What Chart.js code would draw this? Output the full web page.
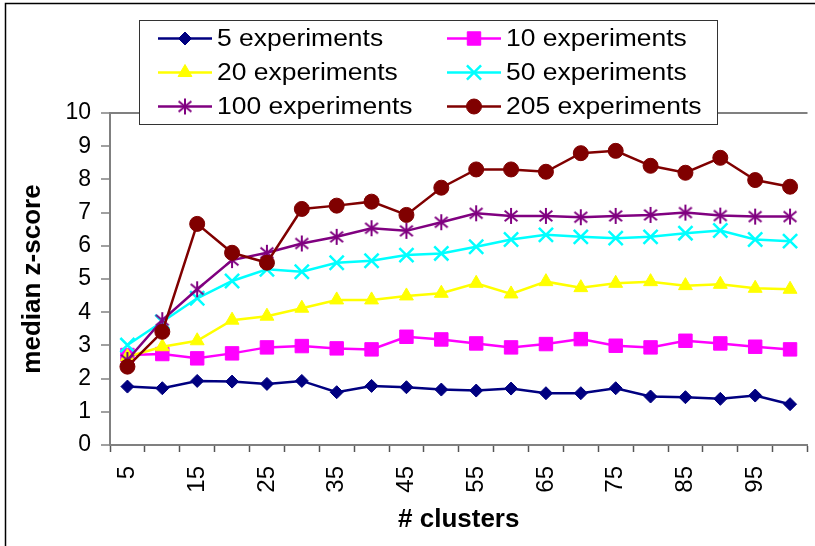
<!DOCTYPE html>
<html>
<head>
<meta charset="utf-8">
<script src="https://cdn.jsdelivr.net/npm/chart.js@4.4.0/dist/chart.umd.min.js"></script>
<style>
html, body { margin: 0; padding: 0; overflow: hidden; background: #fff; }
#wrap { width: 820px; height: 546px; }
</style>
</head>
<body>
<div id="wrap"><canvas id="myChart" width="820" height="546"></canvas></div>
<script>
// data
var clusters = [5, 10, 15, 20, 25, 30, 35, 40, 45, 50, 55, 60, 65, 70, 75, 80, 85, 90, 95, 100];
var exp5 = [1.76, 1.71, 1.93, 1.91, 1.84, 1.93, 1.59, 1.78, 1.74, 1.67, 1.64, 1.70, 1.56, 1.56, 1.71, 1.46, 1.44, 1.39, 1.49, 1.23];
var exp10 = [2.71, 2.74, 2.61, 2.76, 2.94, 2.98, 2.91, 2.88, 3.26, 3.18, 3.06, 2.94, 3.04, 3.19, 2.99, 2.94, 3.14, 3.06, 2.96, 2.88];
var exp20 = [2.66, 2.96, 3.14, 3.76, 3.88, 4.12, 4.37, 4.37, 4.49, 4.57, 4.87, 4.55, 4.92, 4.74, 4.87, 4.92, 4.80, 4.84, 4.72, 4.69];
var exp50 = [3.01, 3.71, 4.42, 4.94, 5.29, 5.22, 5.49, 5.55, 5.72, 5.77, 5.97, 6.19, 6.33, 6.27, 6.23, 6.27, 6.38, 6.46, 6.19, 6.14];
var exp100 = [2.56, 3.76, 4.69, 5.57, 5.79, 6.07, 6.27, 6.53, 6.45, 6.71, 6.98, 6.90, 6.90, 6.86, 6.90, 6.93, 7.00, 6.91, 6.88, 6.88];
var exp205 = [2.36, 3.41, 6.66, 5.79, 5.49, 7.11, 7.21, 7.33, 6.93, 7.75, 8.30, 8.30, 8.23, 8.79, 8.86, 8.41, 8.20, 8.65, 7.98, 7.78];
var seriesNames = ['5 experiments', '10 experiments', '20 experiments', '50 experiments', '100 experiments', '205 experiments'];

var FONT = '"Liberation Sans", Arial, sans-serif';
Chart.defaults.font.family = FONT;
Chart.defaults.color = '#000';

// excel style asterisk marker
function asterisk(color, r) {
    var s = Math.ceil(r * 2 + 4);
    var c = document.createElement('canvas');
    c.width = s; c.height = s;
    var g = c.getContext('2d');
    var m = s / 2;
    g.strokeStyle = color;
    g.lineWidth = 2;
    g.beginPath();
    g.moveTo(m, m - r); g.lineTo(m, m + r);
    g.moveTo(m - r * 0.8, m - r * 0.65); g.lineTo(m + r * 0.8, m + r * 0.65);
    g.moveTo(m - r * 0.8, m + r * 0.65); g.lineTo(m + r * 0.8, m - r * 0.65);
    g.stroke();
    return c;
}

function series(i, values, color, style, radius, pbw) {
    return {
        label: seriesNames[i],
        data: values,
        borderColor: color,
        backgroundColor: color,
        borderWidth: 2.5,
        pointStyle: style,
        pointRadius: radius,
        pointHoverRadius: radius,
        pointBackgroundColor: color,
        pointBorderColor: color,
        pointBorderWidth: pbw,
        tension: 0,
        order: 5 - i
    };
}

var frame = {
    id: 'frame',
    beforeDraw: function (chart) {
        var ctx = chart.ctx;
        ctx.save();
        ctx.fillStyle = '#fff';
        ctx.fillRect(0, 0, chart.width, chart.height);
        ctx.strokeStyle = '#000';
        ctx.lineWidth = 1.5;
        ctx.beginPath();
        ctx.moveTo(5.5, chart.height);
        ctx.lineTo(5.5, 3.5);
        ctx.lineTo(chart.width, 3.5);
        ctx.stroke();
        ctx.restore();
    }
};

var legendBox = {
    id: 'legendBox',
    afterDraw: function (chart) {
        var ctx = chart.ctx;
        ctx.save();
        ctx.fillStyle = '#fff';
        ctx.strokeStyle = '#333';
        ctx.lineWidth = 1;
        ctx.fillRect(139.5, 20.5, 578, 104);
        ctx.strokeRect(139.5, 20.5, 578, 104);
        var cols = [158, 447], rows = [38.5, 72.5, 106.5];
        chart.data.datasets.forEach(function (ds, i) {
            var x = cols[i % 2], y = rows[Math.floor(i / 2)];
            ctx.strokeStyle = ds.borderColor;
            ctx.lineWidth = ds.borderWidth;
            ctx.beginPath();
            ctx.moveTo(x, y);
            ctx.lineTo(x + 54, y);
            ctx.stroke();
            ctx.fillStyle = ds.pointBackgroundColor;
            ctx.strokeStyle = ds.pointBorderColor;
            ctx.lineWidth = ds.pointBorderWidth;
            Chart.helpers.drawPoint(ctx, {
                pointStyle: ds.pointStyle,
                radius: ds.pointRadius,
                borderWidth: ds.pointBorderWidth,
                rotation: 0
            }, x + 27, y);
            ctx.save();
            ctx.translate(x + 59, y + 1);
            ctx.scale(1.15, 1);
            ctx.fillStyle = '#000';
            ctx.font = '23px ' + FONT;
            ctx.textBaseline = 'middle';
            ctx.fillText(ds.label, 0, 0);
            ctx.restore();
        });
        ctx.restore();
    }
};

var ctx = document.getElementById('myChart').getContext('2d');
var myChart = new Chart(ctx, {
    type: 'line',
    data: {
        labels: clusters,
        datasets: [
            series(0, exp5, '#000080', 'rectRot', 6.5, 1),
            series(1, exp10, '#FF00FF', 'rect', 9.5, 1),
            series(2, exp20, '#FFFF00', 'triangle', 8, 1),
            series(3, exp50, '#00FFFF', 'crossRot', 10, 2.5),
            series(4, exp100, '#800080', asterisk('#800080', 8), 8, 0),
            series(5, exp205, '#800000', 'circle', 7.5, 1)
        ]
    },
    options: {
        responsive: false,
        animation: false,
        layout: { padding: { top: 113, left: 0, right: 0, bottom: 0 } },
        plugins: {
            legend: { display: false },
            tooltip: { enabled: false }
        },
        scales: {
            x: {
                offset: true,
                grid: {
                    offset: true,
                    drawOnChartArea: false,
                    tickLength: 7,
                    tickColor: '#555',
                    tickWidth: 1.5
                },
                border: { color: '#808080', width: 2 },
                ticks: {
                    autoSkip: false,
                    minRotation: 90,
                    maxRotation: 90,
                    padding: 14,
                    font: { size: 24 },
                    callback: function (val, idx) {
                        return idx % 2 === 0 ? String(clusters[idx]) : '';
                    }
                },
                title: {
                    display: true,
                    text: '# clusters',
                    font: { size: 26, weight: 'bold' },
                    padding: { top: 0, bottom: 11 }
                },
                afterFit: function (scale) {
                    scale.height = 101;
                    scale.paddingLeft = 0;
                    scale.paddingRight = 0;
                }
            },
            y: {
                min: 0,
                max: 10,
                ticks: {
                    stepSize: 1,
                    padding: 10,
                    font: { size: 23 }
                },
                grid: {
                    color: function (c) { return c.tick && c.tick.value === 10 ? '#808080' : 'rgba(0,0,0,0)'; },
                    lineWidth: 2,
                    tickLength: 9,
                    tickColor: '#808080',
                    tickWidth: 1.5
                },
                border: { color: '#808080', width: 2 },
                title: {
                    display: true,
                    text: 'median z-score',
                    font: { size: 26, weight: 'bold' },
                    padding: { top: 17, bottom: 0 }
                },
                afterFit: function (scale) {
                    scale.width = 110;
                }
            }
        }
    },
    plugins: [frame, legendBox]
});
</script>
</body>
</html>
